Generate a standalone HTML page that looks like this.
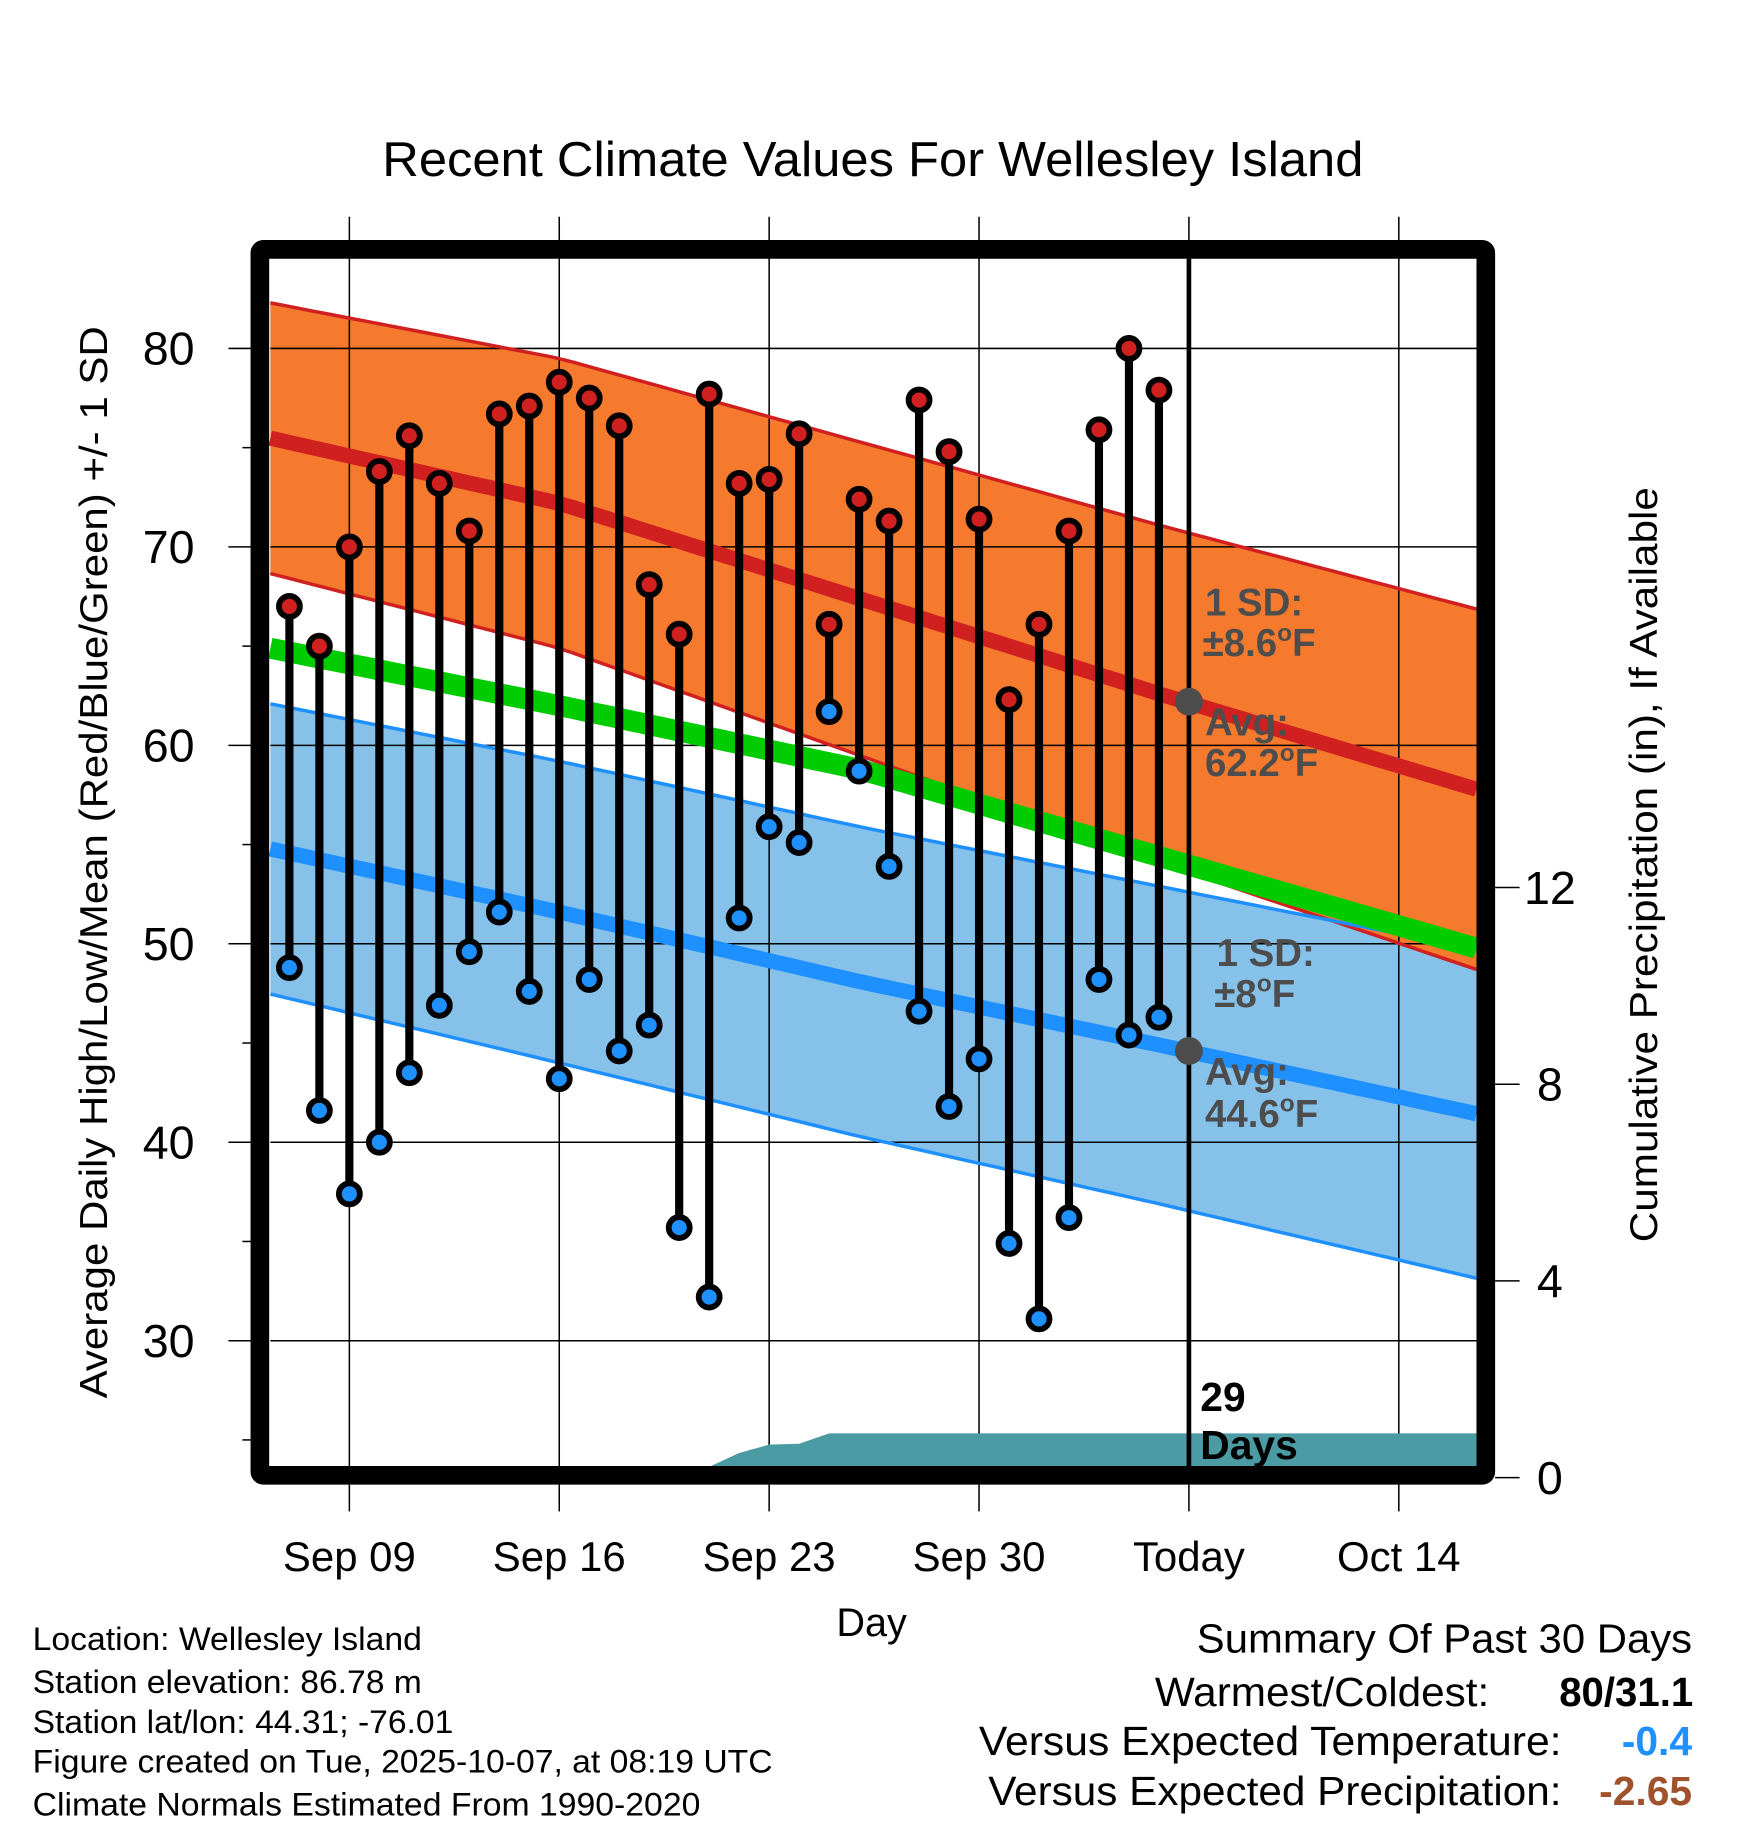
<!DOCTYPE html>
<html><head><meta charset="utf-8">
<style>
html,body{margin:0;padding:0;background:#fff;}
svg{display:block;font-family:"Liberation Sans",sans-serif;}
</style></head>
<body>
<svg id="chart" width="1748" height="1828" viewBox="0 0 1500 1568.67" preserveAspectRatio="none" xmlns="http://www.w3.org/2000/svg">
<text x="328" y="151" font-size="42" textLength="842" lengthAdjust="spacingAndGlyphs">Recent Climate Values For Wellesley Island</text>
<g id="bands"></g>
<g id="grid"></g>
<g id="precip"></g>
<g id="lines"></g>
<g id="annot"></g>
<g id="marks"></g>
<rect x="223" y="214" width="1052" height="1052" fill="none" stroke="#000" stroke-width="16" rx="3"/>
<g id="axes"></g>
<text transform="translate(92,1200) rotate(-90)" font-size="33" textLength="920" lengthAdjust="spacingAndGlyphs">Average Daily High/Low/Mean (Red/Blue/Green) +/- 1 SD</text>
<text transform="translate(1422,1066) rotate(-90)" font-size="33" textLength="648" lengthAdjust="spacingAndGlyphs">Cumulative Precipitation (in), If Available</text>
<text x="748" y="1404" font-size="34" text-anchor="middle">Day</text>
<g font-size="28">
<text x="28" y="1416" textLength="334" lengthAdjust="spacingAndGlyphs">Location: Wellesley Island</text>
<text x="28" y="1453" textLength="334" lengthAdjust="spacingAndGlyphs">Station elevation: 86.78 m</text>
<text x="28" y="1487" textLength="361" lengthAdjust="spacingAndGlyphs">Station lat/lon: 44.31; -76.01</text>
<text x="28" y="1521" textLength="635" lengthAdjust="spacingAndGlyphs">Figure created on Tue, 2025-10-07, at 08:19 UTC</text>
<text x="28" y="1558" textLength="573" lengthAdjust="spacingAndGlyphs">Climate Normals Estimated From 1990-2020</text>
</g>
<g font-size="35">
<text x="1027" y="1418" textLength="425" lengthAdjust="spacingAndGlyphs">Summary Of Past 30 Days</text>
<text x="991" y="1464" textLength="287" lengthAdjust="spacingAndGlyphs">Warmest/Coldest:</text>
<text x="1338" y="1464" font-weight="bold" textLength="115" lengthAdjust="spacingAndGlyphs">80/31.1</text>
<text x="840" y="1506" textLength="500" lengthAdjust="spacingAndGlyphs">Versus Expected Temperature:</text>
<text x="1452" y="1506" text-anchor="end" font-weight="bold" fill="#1e90ff">-0.4</text>
<text x="848" y="1549" textLength="492" lengthAdjust="spacingAndGlyphs">Versus Expected Precipitation:</text>
<text x="1452" y="1549" text-anchor="end" font-weight="bold" fill="#a0522d">-2.65</text>
</g>
</svg>
<script>
// ---- data ----
const normalDays = [6, 16, 26, 36, 47];
const highMean = [75.6, 72.2, 67.4, 62.6, 57.6];
const highSD = [6.8, 7.3, 7.9, 8.5, 9.1];
const lowMean = [54.9, 51.6, 48.1, 44.9, 41.3];
const lowSD = [7.3, 7.6, 7.8, 8.0, 8.3];
const meanLine = [65.0, 62.0, 58.8, 54.4, 49.6];
const obsDays = [7,8,9,10,11,12,13,14,15,16,17,18,19,20,21,22,23,24,25,26,27,28,29,30,31,32,33,34,35,36];
const obsHigh = [67.0,65.0,70.0,73.8,75.6,73.2,70.8,76.7,77.1,78.3,77.5,76.1,68.1,65.6,77.7,73.2,73.4,75.7,66.1,72.4,71.3,77.4,74.8,71.4,62.3,66.1,70.8,75.9,80.0,77.9];
const obsLow = [48.8,41.6,37.4,40.0,43.5,46.9,49.6,51.6,47.6,43.2,48.2,44.6,45.9,35.7,32.2,51.3,55.9,55.1,61.7,58.7,53.9,46.6,41.8,44.2,34.9,31.1,36.2,48.2,45.4,46.3];
const precipCum = [0,0,0,0,0,0,0,0,0,0,0,0,0,0,0.22,0.5,0.67,0.69,0.9,0.9,0.9,0.9,0.9,0.9,0.9,0.9,0.9,0.9,0.9,0.9];
const xTickDays = [9,16,23,30,37,44];
const xTickLabels = ["Sep 09","Sep 16","Sep 23","Sep 30","Today","Oct 14"];
const yTicks = [30,40,50,60,70,80];
const yMinor = [25,35,45,55,65,75];
const y2Ticks = [0,4,8,12];
const todayDay = 37;
const todayHighAvg = 62.2, todayLowAvg = 44.6;

// ---- scales ----
const X0 = 232, X1 = 1267, Y0 = 222, Y1 = 1258;
const x = d => 299.8 + (d - 9) * 25.73;
const y = v => 299 + (80 - v) * 17.03;
const y2 = p => 1268 - p * 42.2;
const dStart = (X0 - 299.8) / 25.73 + 9, dEnd = (X1 - 299.8) / 25.73 + 9;
const NS = "http://www.w3.org/2000/svg";
function mk(tag, attrs, parent) {
  const e = document.createElementNS(NS, tag);
  for (const k in attrs) e.setAttribute(k, attrs[k]);
  parent.appendChild(e); return e;
}
function interp(arr, d) {
  for (let i = 0; i < normalDays.length - 1; i++) {
    if (d <= normalDays[i + 1] || i === normalDays.length - 2) {
      const t = (d - normalDays[i]) / (normalDays[i + 1] - normalDays[i]);
      return arr[i] + t * (arr[i + 1] - arr[i]);
    }
  }
}
const samples = [];
for (let d = dStart; d <= dEnd + 0.001; d += (dEnd - dStart) / 60) samples.push(d);
const pts = f => samples.map(d => x(d).toFixed(1) + "," + y(f(d)).toFixed(1));
const hiU = d => interp(highMean, d) + interp(highSD, d);
const hiL = d => interp(highMean, d) - interp(highSD, d);
const loU = d => interp(lowMean, d) + interp(lowSD, d);
const loL = d => interp(lowMean, d) - interp(lowSD, d);

const bands = document.getElementById('bands');
const blueBand = mk('polygon', {points: pts(loU).concat(pts(loL).reverse()).join(' '), fill: '#85c1e9'}, bands);


const orangeBand = mk('polygon', {points: pts(hiU).concat(pts(hiL).reverse()).join(' '), fill: '#f57a2e'}, bands);



// grid
const grid = document.getElementById('grid');
yTicks.forEach(v => {
  const l = mk('line', {x1: X0, x2: X1, y1: y(v), y2: y(v), stroke: '#000', 'stroke-width': 1.3}, grid);
  
  
});
xTickDays.forEach(d => {
  const l = mk('line', {x1: x(d), x2: x(d), y1: 186, y2: Y1, stroke: '#000', 'stroke-width': 1.3}, grid);
  
  
});

// precip
const pr = document.getElementById('precip');
const ppts = [];
ppts.push(x(obsDays[0]) + "," + y2(0));
obsDays.forEach((d, i) => ppts.push(x(d).toFixed(1) + "," + y2(precipCum[i]).toFixed(1)));
ppts.push(X1 + "," + y2(precipCum[precipCum.length - 1]));
ppts.push(X1 + "," + y2(0));
const clip = mk('clipPath', {id: 'pc'}, pr);
mk('rect', {x: X0, y: Y0, width: X1 - X0, height: Y1 - Y0}, clip);
const parea = mk('polygon', {points: ppts.join(' '), fill: '#4a9ba4', 'clip-path': 'url(#pc)'}, pr);



// lines
const lines = document.getElementById('lines');
function pl(f, color, w, name) {
  const e = mk('polyline', {points: pts(f).join(' '), fill: 'none', stroke: color, 'stroke-width': w}, lines);
  
  
}
pl(hiU, '#d02020', 3, 'high-upper-sd-line');
pl(hiL, '#d02020', 3, 'high-lower-sd-line');
pl(loU, '#1e90ff', 3, 'low-upper-sd-line');
pl(loL, '#1e90ff', 3, 'low-lower-sd-line');
pl(d => interp(meanLine, d), '#00cc00', 18, 'mean-line');
pl(d => interp(highMean, d), '#d02020', 13, 'high-mean-line');
pl(d => interp(lowMean, d), '#1e90ff', 13, 'low-mean-line');

// annotations
const an = document.getElementById('annot');
const todayLine = mk('line', {x1: x(todayDay), x2: x(todayDay), y1: Y0, y2: Y1, stroke: '#000', 'stroke-width': 4}, an);


const g1 = mk('circle', {cx: x(todayDay), cy: y(todayHighAvg), r: 12, fill: '#4d4d4d'}, an);


const g2 = mk('circle', {cx: x(todayDay), cy: y(todayLowAvg), r: 12, fill: '#4d4d4d'}, an);


function txt(tx, ty, s, name, extra) {
  const t = mk('text', Object.assign({x: tx, y: ty, 'font-size': 33, 'font-weight': 'bold', fill: '#4d4d4d'}, extra || {}), an);
  t.innerHTML = s;
  
  
}
const sup = '<tspan dy="-13" font-size="21">o</tspan><tspan dy="13">F</tspan>';
txt(1034, 528, '1 SD:', 'high-sd-label');
txt(1032, 563, '±8.6' + sup, 'high-sd-value');
txt(1034, 631, 'Avg:', 'high-avg-label');
txt(1034, 666, '62.2' + sup, 'high-avg-value');
txt(1044, 829, '1 SD:', 'low-sd-label');
txt(1042, 864, '±8' + sup, 'low-sd-value');
txt(1034, 931, 'Avg:', 'low-avg-label');
txt(1034, 967, '44.6' + sup, 'low-avg-value');
txt(1030, 1211, '29', 'days-count', {fill: '#000', 'font-size': 35});
txt(1030, 1252, 'Days', 'days-label', {fill: '#000', 'font-size': 35});

// marks
const mg = document.getElementById('marks');
obsDays.forEach((d, i) => {
  const cx = x(d);
  const s = mk('line', {x1: cx, x2: cx, y1: y(obsHigh[i]), y2: y(obsLow[i]), stroke: '#000', 'stroke-width': 7}, mg);
  
  
  const h = mk('circle', {cx: cx, cy: y(obsHigh[i]), r: 9, fill: '#d02020', stroke: '#000', 'stroke-width': 5}, mg);
  
  
  const l = mk('circle', {cx: cx, cy: y(obsLow[i]), r: 9, fill: '#1e90ff', stroke: '#000', 'stroke-width': 5}, mg);
  
  
});

// axes
const ax = document.getElementById('axes');
yTicks.forEach(v => {
  mk('line', {x1: 196, x2: 215, y1: y(v), y2: y(v), stroke: '#000', 'stroke-width': 1.3}, ax);
  const t = mk('text', {x: 167, y: y(v) + 14, 'font-size': 40, 'text-anchor': 'end'}, ax);
  t.textContent = v;
  
  
});
yMinor.forEach(v => mk('line', {x1: 208, x2: 215, y1: y(v), y2: y(v), stroke: '#000', 'stroke-width': 1.3}, ax));
y2Ticks.forEach(p => {
  mk('line', {x1: 1283, x2: 1304, y1: y2(p), y2: y2(p), stroke: '#000', 'stroke-width': 1.3}, ax);
  const t = mk('text', {x: 1330, y: y2(p) + 14, 'font-size': 40, 'text-anchor': 'middle'}, ax);
  t.textContent = p;
  
  
});
xTickDays.forEach((d, i) => {
  mk('line', {x1: x(d), x2: x(d), y1: 1274, y2: 1297, stroke: '#000', 'stroke-width': 1.3}, ax);
  const t = mk('text', {x: x(d), y: 1348, 'font-size': 36, 'text-anchor': 'middle'}, ax);
  t.textContent = xTickLabels[i];
  
  
});
</script>
</body></html>
